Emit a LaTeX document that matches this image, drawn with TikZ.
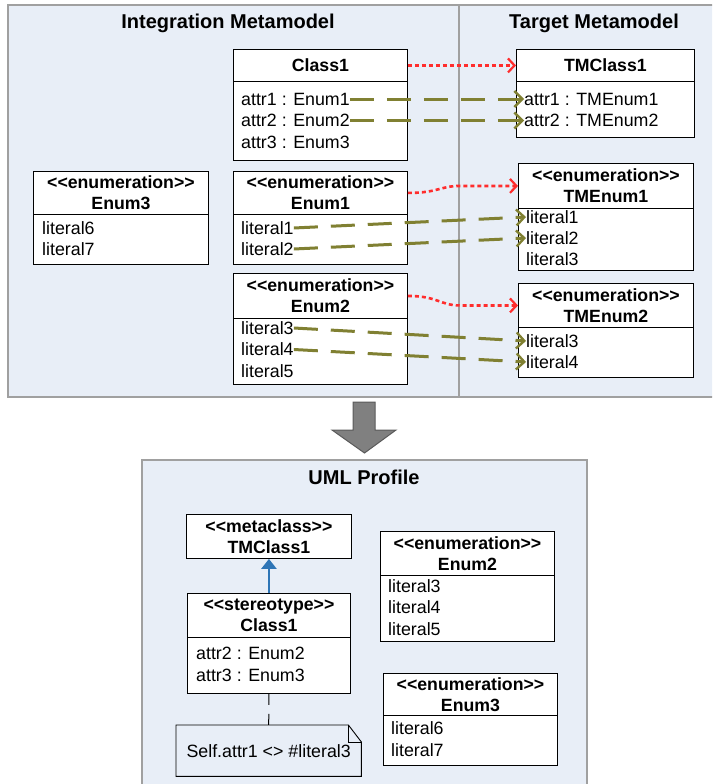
\documentclass[tikz,border=0pt]{standalone}
\usepackage{fontspec}
\setmainfont{Liberation Sans}
\usetikzlibrary{arrows.meta,calc}

\definecolor{panelfill}{RGB}{232,238,247}
\definecolor{panelline}{RGB}{160,160,160}
\definecolor{tracered}{RGB}{255,45,45}
\definecolor{mapolive}{RGB}{128,128,50}
\definecolor{extblue}{RGB}{46,117,182}
\definecolor{arrowgray}{RGB}{128,128,128}
\definecolor{arrowedge}{RGB}{90,90,90}

% stereotype brackets, kept apart so they are not joined into guillemets
\newcommand\ltlt{<\kern0pt<}
\newcommand\gtgt{>\kern0pt>}

\tikzset{
  panel/.style={fill=panelfill, draw=panelline, line width=2.5pt},
  paneltitle/.style={inner sep=0, font=\bfseries\fontsize{20}{24}\selectfont},
  boxhead/.style={draw=black, fill=white, line width=0.9pt, anchor=north west,
    inner sep=0, align=center, font=\bfseries\fontsize{17.7}{21}\selectfont},
  boxbody/.style={draw=black, fill=white, line width=0.9pt, anchor=north west, inner sep=0},
  item/.style={anchor=west, inner sep=0, font=\fontsize{17.8}{21}\selectfont},
  trace/.style={draw=tracered, line width=2.6pt, dash pattern=on 4pt off 3pt,
    -{Straight Barb[length=6.5pt,width=14pt,line width=2.2pt]}},
  mapline/.style={draw=mapolive, line width=3pt, dash pattern=on 24pt off 13pt,
    -{Straight Barb[length=8pt,width=16pt,line width=2.4pt]}},
  extension/.style={draw=extblue, line width=2.5pt, -{Triangle[length=10pt,width=15pt]}},
  anchorline/.style={draw=black, line width=1pt, dash pattern=on 11pt off 9pt},
}

\begin{document}
\begin{tikzpicture}[x=1pt,y=-1pt]
\clip (0,0) rectangle (712,784);

% ---------- metamodel panels ----------
\path[panel] (8,5) rectangle (716,397);
\draw[panelline, line width=2.5pt] (459,5) -- (459,397);
\node[paneltitle] (imtitle) at (228,23) {Integration Metamodel};
\node[paneltitle] (tmtitle) at (594,23) {Target Metamodel};

% Class1
\node[boxhead, minimum width=174pt, minimum height=32pt] (c1h) at (233,49) {Class1};
\node[boxbody, minimum width=174pt, minimum height=79pt] (c1b) at (233,81) {};
\node[item] (c1a1) at (241,99) {attr1 : Enum1};
\node[item] (c1a2) at (241,120.5) {attr2 : Enum2};
\node[item] (c1a3) at (241,142) {attr3 : Enum3};

% Enum3
\node[boxhead, minimum width=175pt, minimum height=43pt] (e3h) at (33,171) {\ltlt enumeration\gtgt\\Enum3};
\node[boxbody, minimum width=175pt, minimum height=50pt] (e3b) at (33,214) {};
\node[item] (e3l6) at (42,228) {literal6};
\node[item] (e3l7) at (42,249) {literal7};

% Enum1
\node[boxhead, minimum width=174pt, minimum height=43pt] (e1h) at (233,171) {\ltlt enumeration\gtgt\\Enum1};
\node[boxbody, minimum width=174pt, minimum height=50pt] (e1b) at (233,214) {};
\node[item] (e1l1) at (241,228) {literal1};
\node[item] (e1l2) at (241,249) {literal2};

% Enum2
\node[boxhead, minimum width=174pt, minimum height=45pt] (e2h) at (233,273) {\ltlt enumeration\gtgt\\Enum2};
\node[boxbody, minimum width=174pt, minimum height=66pt] (e2b) at (233,318) {};
\node[item] (e2l3) at (241,328) {literal3};
\node[item] (e2l4) at (241,349.5) {literal4};
\node[item] (e2l5) at (241,371) {literal5};

% TMClass1
\node[boxhead, minimum width=178pt, minimum height=32pt] (tc1h) at (516,49) {TMClass1};
\node[boxbody, minimum width=178pt, minimum height=56pt] (tc1b) at (516,81) {};
\node[item] (tc1a1) at (524,99) {attr1 : TMEnum1};
\node[item] (tc1a2) at (524,120.5) {attr2 : TMEnum2};

% TMEnum1
\node[boxhead, minimum width=175pt, minimum height=45pt] (te1h) at (518,163) {\ltlt enumeration\gtgt\\TMEnum1};
\node[boxbody, minimum width=175pt, minimum height=62pt] (te1b) at (518,208) {};
\node[item] (te1l1) at (526,217) {literal1};
\node[item] (te1l2) at (526,238) {literal2};
\node[item] (te1l3) at (526,259) {literal3};

% TMEnum2
\node[boxhead, minimum width=175pt, minimum height=44pt] (te2h) at (518,283) {\ltlt enumeration\gtgt\\TMEnum2};
\node[boxbody, minimum width=175pt, minimum height=50pt] (te2b) at (518,327) {};
\node[item] (te2l3) at (526,341) {literal3};
\node[item] (te2l4) at (526,362) {literal4};

% trace links between classifiers
\draw[trace] (c1h.east) -- (tc1h.west);
\draw[trace] (e1h.east) .. controls +(30,0) and +(-20,0) .. ($(te1h.west)+(-58,0)$) -- (te1h.west);
\draw[trace] (e2h.east) .. controls +(30,0) and +(-20,0) .. ($(te2h.west)+(-58,0)$) -- (te2h.west);

% element mappings
\draw[mapline] (c1a1.east) -- (tc1a1.west);
\draw[mapline] (c1a2.east) -- (tc1a2.west);
\draw[mapline] (e1l1.east) -- (te1l1.west);
\draw[mapline] (e1l2.east) -- (te1l2.west);
\draw[mapline] (e2l3.east) -- (te2l3.west);
\draw[mapline] (e2l4.east) -- (te2l4.west);

% ---------- transformation arrow ----------
\draw[fill=arrowgray, draw=arrowedge, line width=1pt]
  (353,402) -- (375,402) -- (375,430) -- (396,430) -- (364.5,453)
  -- (332,430) -- (353,430) -- cycle;

% ---------- UML profile panel ----------
\path[panel] (142,460) rectangle (587,800);
\node[paneltitle] (uptitle) at (364,477) {UML Profile};

% metaclass
\node[boxhead, minimum width=165pt, minimum height=44pt] (meta) at (186,514) {\ltlt metaclass\gtgt\\TMClass1};

% stereotype
\node[boxhead, minimum width=163pt, minimum height=44pt] (sth) at (187,593) {\ltlt stereotype\gtgt\\Class1};
\node[boxbody, minimum width=163pt, minimum height=56pt] (stb) at (187,637) {};
\node[item] (sta2) at (196,653) {attr2 : Enum2};
\node[item] (sta3) at (196,675) {attr3 : Enum3};

% Enum2 (profile)
\node[boxhead, minimum width=174pt, minimum height=44pt] (pe2h) at (380,531) {\ltlt enumeration\gtgt\\Enum2};
\node[boxbody, minimum width=174pt, minimum height=66pt] (pe2b) at (380,575) {};
\node[item] (pe2l3) at (388,586) {literal3};
\node[item] (pe2l4) at (388,607.5) {literal4};
\node[item] (pe2l5) at (388,629) {literal5};

% Enum3 (profile)
\node[boxhead, minimum width=174pt, minimum height=42pt] (pe3h) at (383,673) {\ltlt enumeration\gtgt\\Enum3};
\node[boxbody, minimum width=174pt, minimum height=50pt] (pe3b) at (383,715) {};
\node[item] (pe3l6) at (391,728) {literal6};
\node[item] (pe3l7) at (391,750) {literal7};

% constraint note
\node[inner sep=0, minimum width=185pt, minimum height=51pt, anchor=north west,
  font=\fontsize{17.8}{21}\selectfont] (note) at (176,725) {Self.attr1 <> \#literal3};
\draw[black, line width=0.9pt]
  (note.north west) -- ($(note.north east)+(-13,0)$) -- ($(note.north east)+(0,17)$)
  -- (note.south east) -- (note.south west) -- cycle;
\draw[black, line width=0.9pt] ($(note.north east)+(-13,0)$) -- ($(note.north east)+(-13,17)$)
  -- ($(note.north east)+(0,17)$);

\draw[extension] (sth.north) -- (meta.south);
\draw[anchorline] (stb.south) -- (note.north);
\end{tikzpicture}
\end{document}
